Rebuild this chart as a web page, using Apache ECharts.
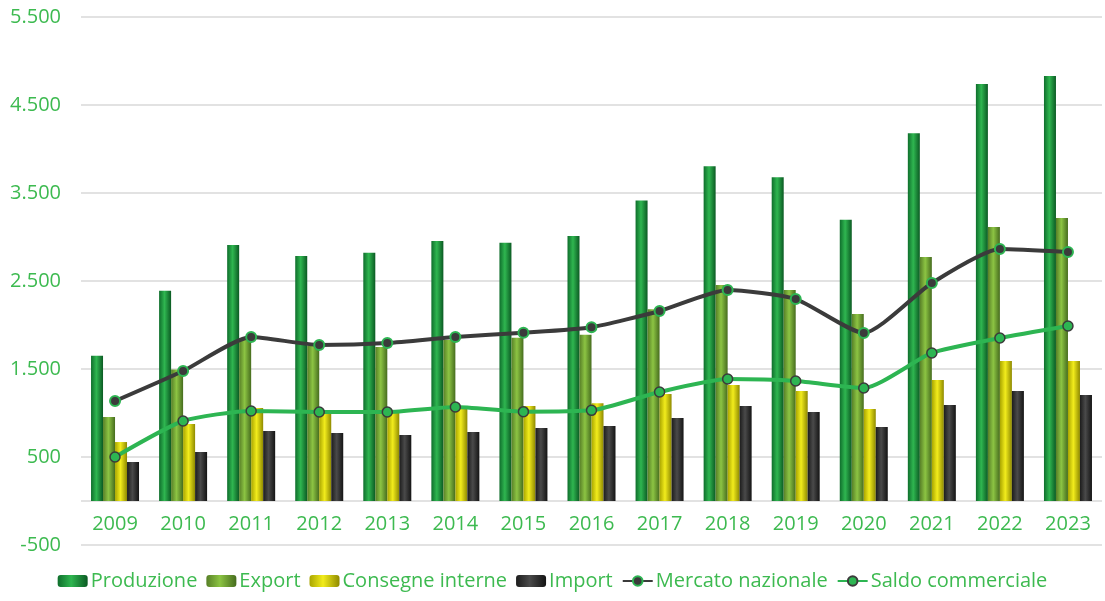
<!DOCTYPE html>
<html lang="it">

<head>
  <meta charset="UTF-8" />
  <title>Produzione, export e mercato</title>
  <script src="https://cdn.jsdelivr.net/npm/echarts@6/dist/echarts.min.js"></script>
  <style>
    html, body { margin: 0; padding: 0; background: #fff; }
  </style>
</head>

<body>
  <div id="main" style="width: 1105px;height:601px;"></div>
  <script type="text/javascript">
    // dati
    const anni = ['2009', '2010', '2011', '2012', '2013', '2014', '2015', '2016',
      '2017', '2018', '2019', '2020', '2021', '2022', '2023']
    const produzione = [1650, 2390, 2910, 2785, 2820, 2955, 2935, 3010, 3415, 3805, 3680, 3195, 4180, 4740, 4830]
    const exportVal = [955, 1495, 1830, 1760, 1750, 1830, 1855, 1888, 2180, 2455, 2398, 2125, 2773, 3114, 3216]
    const consegne = [670, 875, 1057, 1000, 1000, 1050, 1080, 1112, 1215, 1318, 1250, 1045, 1375, 1590, 1590]
    const importVal = [443, 557, 795, 773, 750, 784, 830, 852, 943, 1080, 1011, 841, 1091, 1250, 1205]
    const mercato = [1136, 1477, 1864, 1773, 1795, 1864, 1912, 1975, 2159, 2398, 2295, 1909, 2477, 2864, 2830]
    const saldo = [500, 909, 1023, 1011, 1011, 1068, 1015, 1030, 1239, 1386, 1364, 1284, 1682, 1852, 1989]

    const verdeTesto = '#3dba50'
    const grigio = '#d9d9d9'
    const vuoto = 'rgba(0,0,0,0)'

    // gradiente orizzontale per l'effetto "3D" delle barre
    function grad(a, b, c) {
      return new echarts.graphic.LinearGradient(0, 0, 1, 0, [
        { offset: 0, color: a },
        { offset: 0.45, color: b },
        { offset: 1, color: c }
      ])
    }

    function barra(nome, dati, colore) {
      return {
        name: nome,
        type: 'bar',
        barWidth: 12,
        barGap: '0%',
        data: dati,
        itemStyle: { color: colore }
      }
    }

    function fmt(v) {
      const s = String(Math.abs(v)).replace(/\B(?=(\d{3})+(?!\d))/g, '.')
      return (v < 0 ? '-' : '') + s
    }

    const myChart = echarts.init(document.getElementById('main'))

    const option = {
      animation: false,
      textStyle: { fontFamily: '"Open Sans", sans-serif' },
      grid: { left: 81, right: 3, top: 17, bottom: 56, containLabel: false },
      legend: {
        bottom: 5,
        left: 'center',
        itemWidth: 30,
        itemHeight: 12,
        itemGap: 9,
        textStyle: { color: verdeTesto, fontSize: 20, padding: [0, 0, 0, -2] },
        data: ['Produzione', 'Export', 'Consegne interne', 'Import', 'Mercato nazionale', 'Saldo commerciale']
      },
      xAxis: {
        type: 'category',
        data: anni,
        axisLine: { show: false, onZero: false },
        axisTick: { show: false },
        axisLabel: { color: verdeTesto, fontSize: 20, margin: -31 }
      },
      yAxis: {
        type: 'value',
        min: -500,
        max: 5500,
        interval: 500,
        axisLine: { show: false },
        axisTick: { show: false },
        axisLabel: {
          color: verdeTesto,
          fontSize: 20,
          margin: 20,
          formatter: function (v) {
            return ((v + 500) % 1000 === 0) ? fmt(v) : ''
          }
        },
        // linee a -500, 0, 500, 1.500, 2.500 ...
        splitLine: {
          lineStyle: {
            color: [grigio, grigio, grigio, vuoto, grigio, vuoto, grigio, vuoto, grigio, vuoto, grigio, vuoto, grigio],
            width: 1.5
          }
        }
      },
      series: [
        barra('Produzione', produzione, grad('#0f6e2c', '#2fb650', '#0b5a23')),
        barra('Export', exportVal, grad('#577f27', '#8cc443', '#466c1e')),
        barra('Consegne interne', consegne, grad('#a9a500', '#f2ec1c', '#8f8a00')),
        barra('Import', importVal, grad('#1c1c1c', '#4a4a4a', '#141414')),
        {
          name: 'Mercato nazionale',
          type: 'line',
          data: mercato,
          smooth: 0.2,
          symbol: 'circle',
          symbolSize: 10,
          lineStyle: { color: '#3b3b3b', width: 4 },
          itemStyle: { color: '#3b3b3b', borderColor: '#2db552', borderWidth: 2 }
        },
        {
          name: 'Saldo commerciale',
          type: 'line',
          data: saldo,
          smooth: 0.2,
          symbol: 'circle',
          symbolSize: 10,
          lineStyle: { color: '#2db552', width: 4 },
          itemStyle: { color: '#2db552', borderColor: '#3b3b3b', borderWidth: 1.5 }
        }
      ]
    }

    myChart.setOption(option)
  </script>
</body>

</html>
